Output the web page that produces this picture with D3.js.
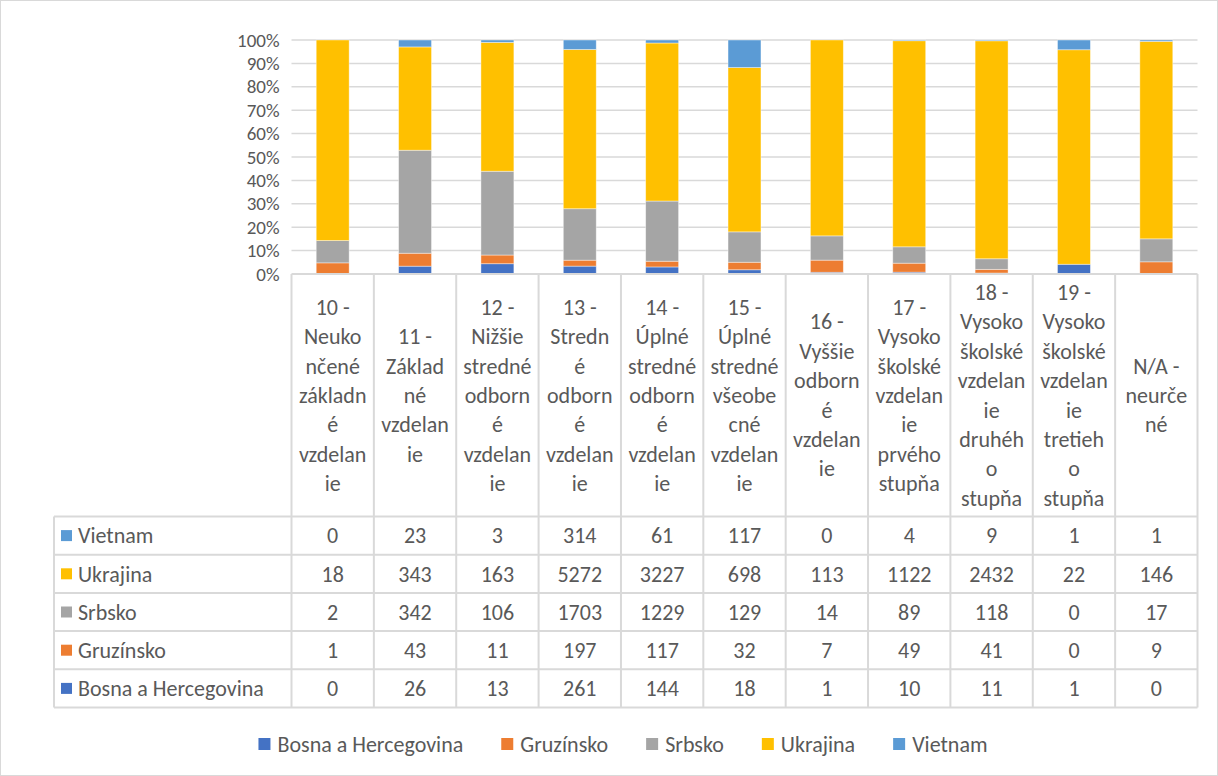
<!DOCTYPE html>
<html>
<head>
<meta charset="utf-8">
<script src="https://cdn.jsdelivr.net/npm/d3@7"></script>
<style>
  body { margin: 0; background: #fff; }
  svg, svg text { font-family: Carlito, Calibri, Lato, sans-serif; }
</style>
</head>
<body>
<script>
// Categories (education level) and the wrapped header lines as shown in the table
let categories = [
    "10 - Neukončené základné vzdelanie",
    "11 - Základné vzdelanie",
    "12 - Nižšie stredné odborné vzdelanie",
    "13 - Stredné odborné vzdelanie",
    "14 - Úplné stredné odborné vzdelanie",
    "15 - Úplné stredné všeobecné vzdelanie",
    "16 - Vyššie odborné vzdelanie",
    "17 - Vysokoškolské vzdelanie prvého stupňa",
    "18 - Vysokoškolské vzdelanie druhého stupňa",
    "19 - Vysokoškolské vzdelanie tretieho stupňa",
    "N/A - neurčené"
];
let headerLines = [
    ["10 -", "Neuko", "nčené", "základn", "é", "vzdelan", "ie"],
    ["11 -", "Základ", "né", "vzdelan", "ie"],
    ["12 -", "Nižšie", "stredné", "odborn", "é", "vzdelan", "ie"],
    ["13 -", "Stredn", "é", "odborn", "é", "vzdelan", "ie"],
    ["14 -", "Úplné", "stredné", "odborn", "é", "vzdelan", "ie"],
    ["15 -", "Úplné", "stredné", "všeobe", "cné", "vzdelan", "ie"],
    ["16 -", "Vyššie", "odborn", "é", "vzdelan", "ie"],
    ["17 -", "Vysoko", "školské", "vzdelan", "ie", "prvého", "stupňa"],
    ["18 -", "Vysoko", "školské", "vzdelan", "ie", "druhéh", "o", "stupňa"],
    ["19 -", "Vysoko", "školské", "vzdelan", "ie", "tretieh", "o", "stupňa"],
    ["N/A -", "neurče", "né"]
];

// Series (stack order bottom to top)
let seriesNames = ["Bosna a Hercegovina", "Gruzínsko", "Srbsko", "Ukrajina", "Vietnam"];
let bosna     = [0, 26, 13, 261, 144, 18, 1, 10, 11, 1, 0];
let gruzinsko = [1, 43, 11, 197, 117, 32, 7, 49, 41, 0, 9];
let srbsko    = [2, 342, 106, 1703, 1229, 129, 14, 89, 118, 0, 17];
let ukrajina  = [18, 343, 163, 5272, 3227, 698, 113, 1122, 2432, 22, 146];
let vietnam   = [0, 23, 3, 314, 61, 117, 0, 4, 9, 1, 1];
let colors = ["#4472C4", "#ED7D31", "#A5A5A5", "#FFC000", "#5B9BD5"];
let yTicks = [0, 0.1, 0.2, 0.3, 0.4, 0.5, 0.6, 0.7, 0.8, 0.9, 1];

let seriesValues = [bosna, gruzinsko, srbsko, ukrajina, vietnam];

let svgWidth = 1218;
let svgHeight = 776;
let fontSize = 22;
let tickFontSize = 19;
let textColor = "#595959";
let lineColor = "#D9D9D9";

// Layout of plot + data table
let plotTop = 40;
let plotBottom = 274;
let tableLeft = 54;
let colLeft = 291.5;
let colRight = 1197.5;
let headerBottom = 516.5;
let rowHeight = 38.2;

let svg = d3.select("body")
    .append("svg")
    .attr("width", svgWidth)
    .attr("height", svgHeight);

// chart border
svg.append("rect")
    .attr("x", 0.5).attr("y", 0.5)
    .attr("width", svgWidth - 1).attr("height", svgHeight - 1)
    .attr("fill", "#fff")
    .attr("stroke", lineColor);

let xScale = d3.scaleBand()
    .domain(categories)
    .range([colLeft, colRight]);

let yScale = d3.scaleLinear()
    .domain([0, 1])
    .range([plotBottom, plotTop]);

// build rows for stacking, normalised to 100%
let rows = categories.map((c, i) => {
    let row = { category: c };
    seriesNames.forEach((s, j) => row[s] = seriesValues[j][i]);
    return row;
});
let stack = d3.stack()
    .keys(seriesNames)
    .offset(d3.stackOffsetExpand);
let stacked = stack(rows);

// gridlines
svg.append("g")
    .selectAll("line")
    .data(yTicks.slice(1))
    .enter()
    .append("line")
    .attr("x1", colLeft)
    .attr("x2", colRight)
    .attr("y1", d => yScale(d))
    .attr("y2", d => yScale(d))
    .attr("stroke", lineColor)
    .attr("stroke-width", 1.5);

// y axis labels
let yAxis = d3.axisLeft(yScale)
    .tickValues(yTicks)
    .tickFormat(d3.format(".0%"))
    .tickSize(0)
    .tickPadding(12);
let yAxisGroup = svg.append("g")
    .attr("transform", `translate(${colLeft}, 0)`)
    .call(yAxis)
    .attr("font-family", null)
    .attr("font-size", null);
yAxisGroup.select(".domain").remove();
yAxisGroup.selectAll("text")
    .attr("fill", textColor)
    .style("font-size", tickFontSize + "px");

// bars
let barWidth = xScale.bandwidth() / 2.5;
svg.append("g")
    .selectAll("g")
    .data(stacked)
    .enter()
    .append("g")
    .attr("fill", (d, i) => colors[i])
    .selectAll("rect")
    .data(d => d)
    .enter()
    .append("rect")
    .attr("x", d => xScale(d.data.category) + (xScale.bandwidth() - barWidth) / 2)
    .attr("y", d => yScale(d[1]))
    .attr("width", barWidth)
    .attr("height", d => yScale(d[0]) - yScale(d[1]))
    .attr("stroke", "#fff")
    .attr("stroke-opacity", 0.5)
    .attr("stroke-width", 0.8);

// data table
let table = svg.append("g");
let tableBottom = headerBottom + rowHeight * seriesNames.length;

// header column lines
xScale.domain().concat([null]).forEach((c, i) => {
    let x = c ? xScale(c) : colRight;
    table.append("line")
        .attr("x1", x).attr("x2", x)
        .attr("y1", plotBottom).attr("y2", tableBottom)
        .attr("stroke", lineColor).attr("stroke-width", 2);
});
// axis / header top line
table.append("line")
    .attr("x1", colLeft).attr("x2", colRight)
    .attr("y1", plotBottom).attr("y2", plotBottom)
    .attr("stroke", lineColor).attr("stroke-width", 2);
// row lines
d3.range(seriesNames.length + 1).forEach(i => {
    let y = headerBottom + i * rowHeight;
    table.append("line")
        .attr("x1", tableLeft).attr("x2", colRight)
        .attr("y1", y).attr("y2", y)
        .attr("stroke", lineColor).attr("stroke-width", 2);
});
table.append("line")
    .attr("x1", tableLeft).attr("x2", tableLeft)
    .attr("y1", headerBottom).attr("y2", tableBottom)
    .attr("stroke", lineColor).attr("stroke-width", 2);

// header labels (vertically centred in header)
let lineHeight = 29.4;
let headerMid = (plotBottom + headerBottom) / 2;
categories.forEach((c, i) => {
    let lines = headerLines[i];
    let startY = headerMid - (lines.length - 1) * lineHeight / 2;
    let t = table.append("text")
        .attr("text-anchor", "middle")
        .attr("fill", textColor)
        .style("font-size", fontSize + "px");
    lines.forEach((ln, k) => {
        t.append("tspan")
            .attr("x", xScale(c) + xScale.bandwidth() / 2)
            .attr("y", startY + k * lineHeight)
            .attr("dy", "0.35em")
            .text(ln);
    });
});

// rows: Vietnam at top down to Bosna
let rowOrder = d3.range(seriesNames.length).reverse();
rowOrder.forEach((j, r) => {
    let cy = headerBottom + r * rowHeight + rowHeight / 2;
    table.append("rect")
        .attr("x", 61).attr("y", cy - 5.5)
        .attr("width", 11).attr("height", 11)
        .attr("fill", colors[j]);
    table.append("text")
        .attr("x", 78).attr("y", cy)
        .attr("dy", "0.35em")
        .attr("fill", textColor)
        .style("font-size", fontSize + "px")
        .text(seriesNames[j]);
    seriesValues[j].forEach((v, i) => {
        table.append("text")
            .attr("x", xScale(categories[i]) + xScale.bandwidth() / 2)
            .attr("y", cy)
            .attr("dy", "0.35em")
            .attr("text-anchor", "middle")
            .attr("fill", textColor)
            .style("font-size", fontSize + "px")
            .text(v);
    });
});

// legend at bottom, centred
let legend = svg.append("g");
let legendY = 744;
let legendGap = 38;
let items = legend.selectAll("g")
    .data(seriesNames)
    .enter()
    .append("g");
items.append("rect")
    .attr("y", legendY - 6)
    .attr("width", 12).attr("height", 12)
    .attr("fill", (d, i) => colors[i]);
items.append("text")
    .attr("x", 19)
    .attr("y", legendY)
    .attr("dy", "0.35em")
    .attr("fill", textColor)
    .style("font-size", fontSize + "px")
    .text(d => d);
let offsets = [];
let total = 0;
items.each(function() {
    offsets.push(total);
    total += this.getBBox().width + legendGap;
});
total -= legendGap;
let legendStart = 623 - total / 2;
items.attr("transform", (d, i) => `translate(${legendStart + offsets[i]}, 0)`);
</script>
</body>
</html>
